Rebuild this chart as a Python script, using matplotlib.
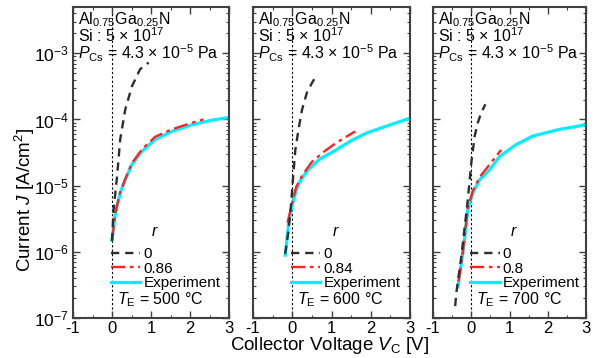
import numpy as np
import matplotlib
matplotlib.use('Agg')
import matplotlib.pyplot as plt
from matplotlib.ticker import LogLocator, MultipleLocator, NullFormatter
from matplotlib.lines import Line2D

plt.rcParams['font.family'] = ['Liberation Sans', 'DejaVu Sans']
plt.rcParams['mathtext.fontset'] = 'custom'
plt.rcParams['mathtext.rm'] = 'Liberation Sans'
plt.rcParams['mathtext.it'] = 'Liberation Sans:italic'
plt.rcParams['mathtext.default'] = 'regular'
plt.rcParams['axes.unicode_minus'] = False

# 数据：从图上读出的 (V, log10 J)
temps = ['500', '600', '700']
r_vals = ['0.86', '0.84', '0.8']

v_r0_1 = [0, 0.04, 0.13, 0.21, 0.34, 0.51, 0.72, 0.94]
j_r0_1 = [-5.84, -5.36, -4.86, -4.30, -3.85, -3.50, -3.24, -3.14]
v_fit_1 = [0, 0.09, 0.21, 0.34, 0.51, 0.77, 1.11, 1.53, 2.05, 2.34]
j_fit_1 = [-5.82, -5.40, -5.10, -4.90, -4.66, -4.45, -4.26, -4.15, -4.05, -4.0]
v_exp_1 = [0, 0.09, 0.21, 0.34, 0.51, 0.77, 1.11, 1.53, 2.05, 2.56, 3.0]
j_exp_1 = [-5.82, -5.41, -5.11, -4.91, -4.68, -4.48, -4.30, -4.18, -4.08, -4.01, -3.97]

v_r0_2 = [-0.18, -0.1, -0.04, 0.03, 0.08, 0.16, 0.25, 0.37, 0.5, 0.63]
j_r0_2 = [-6.03, -5.7, -5.35, -4.81, -4.45, -4.15, -3.85, -3.6, -3.45, -3.32]
v_fit_2 = [-0.12, 0, 0.1, 0.25, 0.5, 0.8, 1.1, 1.6]
j_fit_2 = [-5.56, -5.25, -5.02, -4.85, -4.64, -4.49, -4.36, -4.18]
v_exp_2 = [-0.18, -0.09, 0, 0.1, 0.2, 0.4, 0.7, 1.06, 1.5, 1.91, 2.4, 2.75, 3.0]
j_exp_2 = [-6.05, -5.56, -5.29, -5.07, -4.93, -4.76, -4.6, -4.48, -4.32, -4.2, -4.1, -4.03, -3.98]

v_r0_3 = [-0.42, -0.39, -0.26, -0.17, -0.09, -0.04, 0, 0.09, 0.17, 0.26, 0.37]
j_r0_3 = [-6.82, -6.62, -6.07, -5.62, -5.21, -4.91, -4.66, -4.25, -4.05, -3.9, -3.77]
v_fit_3 = [-0.33, -0.22, -0.09, 0.04, 0.22, 0.48, 0.78]
j_fit_3 = [-6.45, -6.0, -5.34, -5.08, -4.87, -4.68, -4.46]
v_exp_3 = [-0.35, -0.22, -0.09, 0.04, 0.22, 0.48, 0.74, 1.17, 1.61, 2.3, 3.0]
j_exp_3 = [-6.53, -6.02, -5.36, -5.11, -4.91, -4.76, -4.56, -4.38, -4.25, -4.15, -4.08]

panels = [
    (v_r0_1, j_r0_1, v_fit_1, j_fit_1, v_exp_1, j_exp_1),
    (v_r0_2, j_r0_2, v_fit_2, j_fit_2, v_exp_2, j_exp_2),
    (v_r0_3, j_r0_3, v_fit_3, j_fit_3, v_exp_3, j_exp_3),
]

W, H = 596, 358
fig = plt.figure(figsize=(W / 100, H / 100), dpi=100)
lefts = [73, 253, 433]
widths = [156, 157, 153]
top, bottom = 7, 318

c_black = '#2e2e2e'
c_red = '#ff2222'
c_cyan = '#00f0ff'
c_spine = '#404040'

for i, (vr0, jr0, vf, jf, ve, je) in enumerate(panels):
    ax = fig.add_axes([lefts[i] / W, 1 - bottom / H, widths[i] / W, (bottom - top) / H])
    ax.axvline(0, color='black', lw=0.8, ls=(0, (2, 2)), zorder=1)
    ax.plot(ve, 10 ** np.array(je), color=c_cyan, lw=2.3, zorder=2)
    ax.plot(vf, 10 ** np.array(jf), color=c_red, lw=1.7, ls=(0, (6, 2, 1.5, 2)), zorder=3)
    ax.plot(vr0, 10 ** np.array(jr0), color=c_black, lw=1.7, ls=(0, (3.5, 2.5)), zorder=3)
    ax.set_yscale('log')
    ax.set_xlim(-1, 3)
    ax.set_ylim(1e-7, 10 ** -2.3)
    ax.xaxis.set_major_locator(MultipleLocator(1))
    ax.xaxis.set_minor_locator(MultipleLocator(0.5))
    ax.yaxis.set_major_locator(LogLocator(base=10, numticks=10))
    ax.yaxis.set_minor_locator(LogLocator(base=10, subs=np.arange(2, 10), numticks=20))
    ax.yaxis.set_minor_formatter(NullFormatter())
    ax.tick_params(which='both', direction='in', top=True, right=True, color=c_spine,
                   labelsize=12.5, pad=3)
    ax.tick_params(axis='x', labelsize=12, pad=2.5)
    ax.tick_params(which='major', length=5, width=1)
    ax.tick_params(which='minor', length=2.5, width=0.8)
    if i > 0:
        ax.set_yticklabels([])
    for s in ax.spines.values():
        s.set_color(c_spine)
        s.set_linewidth(1.5)

    # 标注
    fs = 11.5
    ax.text(0.035, 0.958, r'Al$_{0.75}$Ga$_{0.25}$N', transform=ax.transAxes, fontsize=fs, va='center')
    ax.text(0.035, 0.907, r'Si : 5 × 10$^{17}$', transform=ax.transAxes, fontsize=fs, va='center')
    ax.text(0.035, 0.852, r'$\it{P}_{\rm Cs}$ = 4.3 × 10$^{-5}$ Pa', transform=ax.transAxes, fontsize=fs, va='center')

    # 图例
    handles = [
        Line2D([], [], color=c_black, lw=1.7, ls=(0, (3.5, 2.5))),
        Line2D([], [], color=c_red, lw=1.7, ls=(0, (6, 2, 1.5, 2))),
        Line2D([], [], color=c_cyan, lw=2.3),
    ]
    ax.legend(handles, ['0', r_vals[i], 'Experiment'], loc='lower left',
              bbox_to_anchor=(0.245, 0.09), frameon=False, fontsize=11,
              handlelength=1.9, handletextpad=0.2, labelspacing=0.02,
              borderpad=0, borderaxespad=0)
    ax.text(0.5, 0.277, r'$\it{r}$', transform=ax.transAxes, fontsize=11.5, va='center')
    ax.text(0.28, 0.058, r'$\it{T}_{\rm E}$ = ' + temps[i] + ' °C', transform=ax.transAxes,
            fontsize=11.5, va='center')

fig.text(0.042, 1 - 200 / H, r'Current $\it{J}$ [A/cm$^2$]', rotation=90,
         va='center', ha='center', fontsize=13.5)
fig.text(0.553, 1 - 345 / H, r'Collector Voltage $\it{V}_{\rm C}$ [V]',
         va='center', ha='center', fontsize=13.5)

fig.savefig('out.png', dpi=100)
